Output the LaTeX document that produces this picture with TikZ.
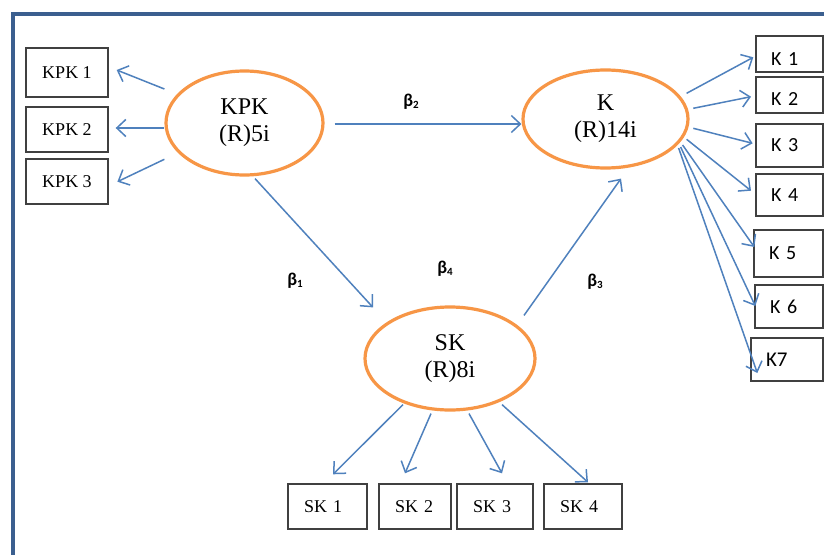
\documentclass[tikz,border=0pt]{standalone}
\usepackage{fontspec}
\setmainfont{Liberation Serif}
\newfontfamily\calib{Carlito}
\usetikzlibrary{arrows.meta,calc,shapes.geometric}
\definecolor{arrc}{HTML}{4F81BD}
\definecolor{ellc}{HTML}{F79646}
\definecolor{boxc}{HTML}{404040}
\definecolor{framec}{HTML}{3B5F8F}
\tikzset{
  lat/.style={ellipse, draw=ellc, line width=3.2pt, inner sep=0pt, align=center,
    font=\fontsize{24}{27}\selectfont},
  bx/.style={draw=boxc, line width=1.4pt, inner ysep=0pt},
  kpkbox/.style={bx, minimum width=82pt, font=\fontsize{18}{20}\selectfont},
  kbox/.style={bx, inner xsep=15pt, align=left, font=\calib\fontsize{20}{22}\selectfont},
  skbox/.style={bx, inner xsep=16pt, align=left, font=\fontsize{18}{20}\selectfont},
  arr/.style={draw=arrc, line width=1.5pt, -{Straight Barb[length=9pt,width=17pt,line width=1.5pt]}},
  beta/.style={font=\calib\bfseries\fontsize{18}{18}\selectfont, inner sep=0pt},
  frame/.style={draw=framec, line width=4pt}
}
\newcommand{\sbeta}[1]{β\raisebox{-1.5pt}{\fontsize{11}{11}\selectfont #1}}
\begin{document}
\begin{tikzpicture}[x=1pt,y=-1pt]
\useasboundingbox (0,0) rectangle (824,554);
\fill[white] (0,0) rectangle (824,554);
\draw[frame] (13,556) -- (13,14) -- (826,14);

% latent variables
\node[lat, minimum width=157pt, minimum height=104pt] (kpk) at (244.5,123) {KPK\\(R)5i};
\node[lat, minimum width=165pt, minimum height=98pt] (k) at (605.5,119) {K\\(R)14i};
\node[lat, minimum width=170pt, minimum height=103pt] (sk) at (450,358.5) {SK\\(R)8i};

% KPK indicators
\node[kpkbox, minimum height=49pt] (kpk1) at (67,72.5) {KPK 1};
\node[kpkbox, minimum height=45pt] (kpk2) at (67,129.5) {KPK 2};
\node[kpkbox, minimum height=45pt] (kpk3) at (67,181.5) {KPK 3};

% K indicators
\node[kbox, text width=37pt, minimum height=36pt] (k1) at (789.5,54) {\raisebox{-5pt}[\height][\depth]{K 1}};
\node[kbox, text width=37pt, minimum height=36pt] (k2) at (789.5,95) {\raisebox{-4pt}[\height][\depth]{K 2}};
\node[kbox, text width=37pt, minimum height=43pt] (k3) at (789.5,145.5) {K 3};
\node[kbox, text width=37pt, minimum height=42pt] (k4) at (789.5,195) {K 4};
\node[kbox, text width=39pt, minimum height=47pt] (k5) at (788.5,253.5) {K 5};
\node[kbox, text width=38pt, minimum height=43pt] (k6) at (789,306.5) {K 6};
\node[kbox, text width=42pt, minimum height=43pt, font=\calib\fontsize{21}{23}\selectfont] (k7) at (787,359.5) {K7};

% SK indicators
\node[skbox, text width=47pt, minimum height=45pt] (sk1) at (327.5,506.5) {SK 1};
\node[skbox, text width=40pt, minimum height=45pt] (sk2) at (415,506.5) {SK 2};
\node[skbox, text width=44pt, minimum height=45pt] (sk3) at (495,506.5) {SK 3};
\node[skbox, text width=46pt, minimum height=45pt] (sk4) at (583,506.5) {SK 4};

% beta labels
\node[beta] (b2) at (411,102) {\sbeta{2}};
\node[beta] (b1) at (295,281) {\sbeta{1}};
\node[beta] (b4) at (445,269) {\sbeta{4}};
\node[beta] (b3) at (595,282) {\sbeta{3}};

% KPK -> indicators
\draw[arr] ($(kpk.west)+(0,-34)$) -- ($(kpk1.east)+(8,-2.5)$);
\draw[arr] ($(kpk.west)+(0,5)$) -- ($(kpk2.east)+(7,-1.5)$);
\draw[arr] ($(kpk.west)+(0,36.3)$) -- ($(kpk3.east)+(8.7,0.2)$);

% structural paths
\draw[arr] ($(kpk.east)+(10,1)$) -- ($(k.west)+(0,5)$);
\draw[arr] ($(kpk.south)+(10.5,2)$) -- ($(sk.north)+(-77,2)$);
\draw[arr] ($(sk.north)+(74,10)$) -- ($(k.south)+(15.5,9)$);

% K -> indicators
\draw[arr] ($(k.east)+(-3,-25.7)$) -- ($(k1.west)+(-2,3.3)$);
\draw[arr] ($(k.east)+(3.7,-10.7)$) -- ($(k2.west)+(-4.3,1.7)$);
\draw[arr] ($(k.east)+(3.7,9.3)$) -- ($(k3.west)+(-2.7,-2.2)$);
\draw[arr] ($(k.east)+(-3,20.3)$) -- ($(k4.west)+(-4.3,-4.3)$);
\draw[arr] ($(k.east)+(-7,26)$) -- ($(k5.west)+(1,-6.5)$);
\draw[arr] ($(k.east)+(-9,28)$) -- ($(k6.west)+(1,-0.5)$);
\draw[arr] ($(k.east)+(-11,29)$) -- ($(k7.west)+(7,13.5)$);

% SK -> indicators
\draw[arr] ($(sk.south)+(-47,-7)$) -- ($(sk1.north)+(5.5,-9)$);
\draw[arr] ($(sk.south)+(-19,2)$) -- ($(sk2.north)+(-10,-10)$);
\draw[arr] ($(sk.south)+(19,2)$) -- ($(sk3.north)+(7,-10)$);
\draw[arr] ($(sk.south)+(52,-7)$) -- ($(sk4.north)+(5,-1)$);
\end{tikzpicture}
\end{document}
